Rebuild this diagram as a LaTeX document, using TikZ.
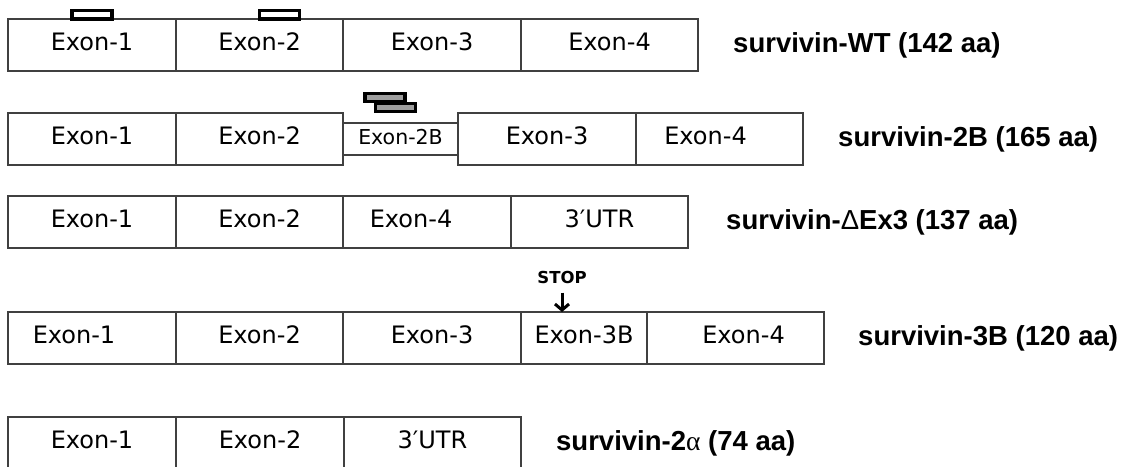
\documentclass[tikz,border=0pt]{standalone}
\usepackage{fontspec}
\usepackage{tikz}
\usetikzlibrary{positioning, arrows.meta}
\newfontfamily\exonfont{DejaVu Sans}
\newfontfamily\namefont{Liberation Sans}
\newfontfamily\greekfont{Liberation Serif}

\begin{document}
\begin{tikzpicture}[x=1pt, y=-1pt, node distance=0pt and 0pt, auto]
		% Styles
		\tikzstyle{exon} = [rectangle, draw=black!75, line width=1.4pt, fill=white,
		inner sep=0pt, outer sep=0pt, minimum height=52pt, text depth=7pt,
		font=\exonfont\fontsize{24}{28}\selectfont]
		\tikzstyle{smallexon} = [exon, minimum height=32pt, text depth=5pt,
		font=\exonfont\fontsize{20.5}{24}\selectfont]
		\tikzstyle{marker} = [rectangle, draw=black, line width=3.2pt, fill=white,
		inner sep=0pt, outer sep=0pt, minimum width=40pt, minimum height=8.5pt]
		\tikzstyle{graymarker} = [marker, fill=black!38, minimum height=8pt]
		\tikzstyle{isoform} = [inner sep=0pt, anchor=west,
		font=\namefont\bfseries\fontsize{27.5}{30}\selectfont]
		\tikzstyle{stoptext} = [inner sep=0pt, font=\exonfont\bfseries\fontsize{16.5}{18}\selectfont]
		\tikzstyle{line} = [draw, line width=3pt, -{Straight Barb[length=6pt, width=14pt]}]

		\useasboundingbox (0,0) rectangle (1131,466);

		% Nodes: survivin-WT
		\node [exon, minimum width=168pt, anchor=north west] (wt1) at (8,19) {Exon-1};
		\node [exon, minimum width=167pt, right=of wt1] (wt2) {Exon-2};
		\node [exon, minimum width=178pt, right=of wt2] (wt3) {Exon-3};
		\node [exon, minimum width=177pt, right=of wt3] (wt4) {Exon-4};
		\node [isoform, right=35pt of wt4] (wtname) {survivin-WT (142 aa)};
		\node [marker, above=0pt of wt1] (wtmark1) {};
		\node [marker, above=0pt of wt2, xshift=20pt] (wtmark2) {};

		% Nodes: survivin-2B
		\node [exon, minimum width=168pt, anchor=north west] (sb1) at (8,113) {Exon-1};
		\node [exon, minimum width=167pt, right=of sb1] (sb2) {Exon-2};
		\node [smallexon, minimum width=115pt, right=of sb2] (sb2b) {Exon-2B};
		\node [exon, minimum width=178pt, right=of sb2b] (sb3) {Exon-3};
		\node [exon, minimum width=167pt, right=of sb3] (sb4) {\hspace*{-28pt}Exon-4};
		\node [isoform, right=35pt of sb4] (sbname) {survivin-2B (165 aa)};
		\node [graymarker, above=21.5pt of sb2b, xshift=-15.5pt] (sbmark1) {};
		\node [graymarker] (sbmark2) at ([xshift=10.5pt, yshift=-10pt]sbmark1.center) {};

		% Nodes: survivin-DeltaEx3
		\node [exon, minimum width=168pt, anchor=north west] (de1) at (8,196) {Exon-1};
		\node [exon, minimum width=167pt, right=of de1] (de2) {Exon-2};
		\node [exon, minimum width=168pt, right=of de2] (de4) {\hspace*{-32pt}Exon-4};
		\node [exon, minimum width=177pt, right=of de4] (deutr) {3′UTR};
		\node [isoform, right=38pt of deutr] (dename) {survivin-{\mdseries Δ}Ex3 (137 aa)};

		% Nodes: survivin-3B
		\node [exon, minimum width=168pt, anchor=north west] (tb1) at (8,312) {\hspace*{-36pt}Exon-1};
		\node [exon, minimum width=167pt, right=of tb1] (tb2) {Exon-2};
		\node [exon, minimum width=178pt, right=of tb2] (tb3) {Exon-3};
		\node [exon, minimum width=126pt, right=of tb3] (tb3b) {Exon-3B};
		\node [exon, minimum width=177pt, right=of tb3b] (tb4) {\hspace*{16pt}Exon-4};
		\node [isoform, right=34pt of tb4] (tbname) {survivin-3B (120 aa)};
		\coordinate (stoptip) at ([xshift=41pt]tb3b.north west);
		\node [stoptext, above=28.5pt of stoptip] (stop) {STOP};

		% Nodes: survivin-2alpha
		\node [exon, minimum width=168pt, anchor=north west] (ta1) at (8,417) {Exon-1};
		\node [exon, minimum width=168pt, right=of ta1] (ta2) {Exon-2};
		\node [exon, minimum width=177pt, right=of ta2] (tautr) {3′UTR};
		\node [isoform, right=35pt of tautr] (taname) {survivin-2{\greekfont\mdseries α} (74 aa)};

		% Connections
		\path [line, shorten <=9pt] (stop.south) -- (stoptip);
	\end{tikzpicture}
\end{document}
